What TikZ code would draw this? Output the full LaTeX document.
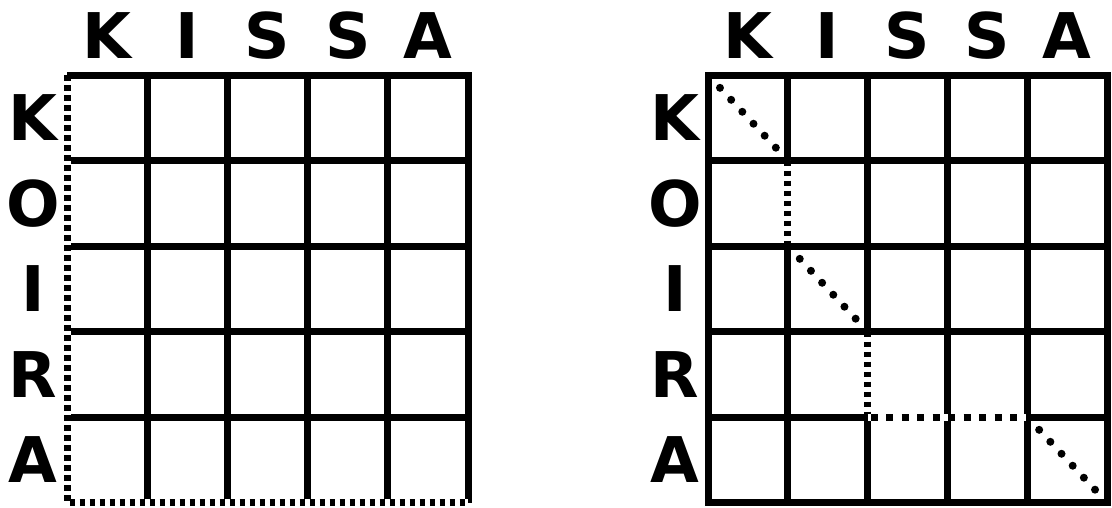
\documentclass[tikz,border=0pt]{standalone}
\usepackage{fontspec}
\setsansfont{DejaVu Sans}
\usetikzlibrary{calc}
\begin{document}
\begin{tikzpicture}[x=1pt,y=-1pt,
  gridline/.style={line width=7pt,black},
  dotbg/.style={line width=7pt,white},
  dotfg/.style={line width=7pt,black,dash pattern=on 5.5pt off 4.5pt},
  lab/.style={font=\sffamily\bfseries\fontsize{63}{63}\selectfont,inner sep=0pt,anchor=base},
  dotmark/.style={fill=black}]
\useasboundingbox (0,0) rectangle (1112,507);
% ---------- left grid ----------
\def\lx{67}\def\dx{80.2}\def\ty{75}\def\dy{85.5}
\foreach \i in {1,...,4}{
  \draw[gridline] ({\lx+\dx*\i},\ty) -- ({\lx+\dx*\i},{\ty+5*\dy});
  \draw[gridline] (\lx,{\ty+\dy*\i}) -- ({\lx+5*\dx},{\ty+\dy*\i});
}
\draw[gridline] (\lx,\ty) -- ({\lx+5*\dx},\ty) -- ({\lx+5*\dx},{\ty+5*\dy});
\draw[dotbg] (\lx,\ty) -- (\lx,{\ty+5*\dy}) -- ({\lx+5*\dx},{\ty+5*\dy});
\draw[dotfg] (\lx,\ty) -- (\lx,{\ty+5*\dy}) -- ({\lx+5*\dx},{\ty+5*\dy});
\foreach \t [count=\i from 0] in {K,I,S,S,A}
  \node[lab] (lt\i) at ({\lx+\dx*(\i+0.5)},58) {\t};
\foreach \t [count=\j from 0] in {K,O,I,R,A}
  \node[lab] (lr\j) at (33,{\ty+\dy*(\j+0.5)+23}) {\t};
% ---------- right grid ----------
\def\rx{708}\def\ex{79.8}
\foreach \i in {1,...,4}{
  \draw[gridline] ({\rx+\ex*\i},\ty) -- ({\rx+\ex*\i},{\ty+5*\dy});
  \draw[gridline] (\rx,{\ty+\dy*\i}) -- ({\rx+5*\ex},{\ty+\dy*\i});
}
\draw[gridline] (\rx,\ty) rectangle ({\rx+5*\ex},{\ty+5*\dy});
\foreach \t [count=\i from 0] in {K,I,S,S,A}
  \node[lab] (rt\i) at ({\rx+\ex*(\i+0.5)},58) {\t};
\foreach \t [count=\j from 0] in {K,O,I,R,A}
  \node[lab] (rr\j) at (675,{\ty+\dy*(\j+0.5)+23}) {\t};
% path coordinates
\coordinate (p0) at (\rx,\ty);
\coordinate (p1) at ({\rx+\ex},{\ty+\dy});
\coordinate (p2) at ({\rx+\ex},{\ty+2*\dy});
\coordinate (p3) at ({\rx+2*\ex},{\ty+3*\dy});
\coordinate (p4) at ({\rx+2*\ex},{\ty+4*\dy});
\coordinate (p5) at ({\rx+4*\ex},{\ty+4*\dy});
\coordinate (p6) at ({\rx+5*\ex},{\ty+5*\dy});
\draw[dotbg] (p1) -- (p2);
\draw[dotfg] (p1) -- (p2);
\draw[dotbg] (p3) -- (p4);
\draw[dotfg] (p3) -- (p4);
\draw[dotbg] (p4) -- (p5);
\draw[dotfg,dash pattern=on 7pt off 8.5pt,dash phase=-3pt] (p4) -- (p5);
\foreach \a/\b in {p0/p1,p2/p3,p5/p6}
  \foreach \k in {0,...,5}
    \fill[dotmark] ($(\a)!{0.15+0.14*\k}!(\b)$) circle (4);
\end{tikzpicture}
\end{document}
